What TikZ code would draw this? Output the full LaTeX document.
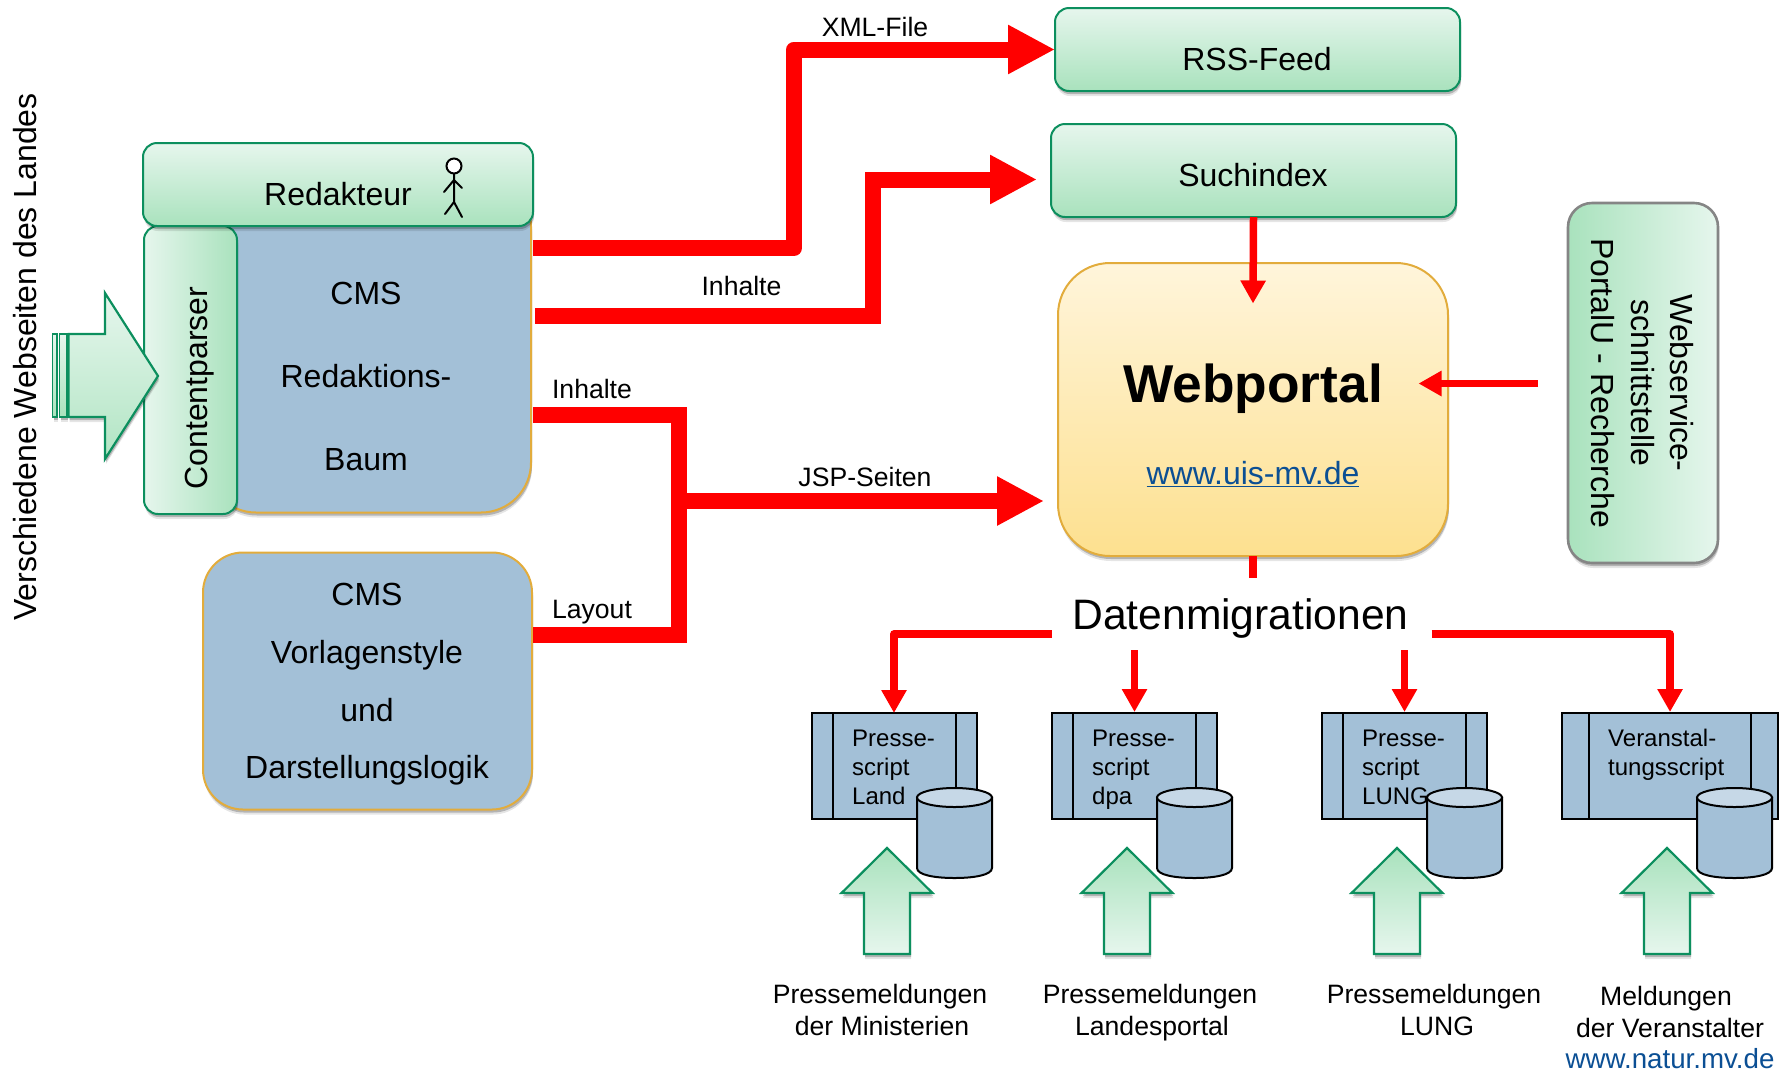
\documentclass[tikz,border=0pt]{standalone}
\usepackage{fontspec}
\setmainfont{Liberation Sans}
\usetikzlibrary{arrows.meta,shadows,calc}
\definecolor{gborder}{HTML}{0C8F5E}
\definecolor{glight}{HTML}{E6F6ED}
\definecolor{gdark}{HTML}{A9E2BD}
\definecolor{cmsblue}{HTML}{A3C0D7}
\definecolor{cyltop}{HTML}{C6D8E7}
\definecolor{gold}{HTML}{E2AC3C}
\definecolor{ylight}{HTML}{FFF5DB}
\definecolor{ydark}{HTML}{FDE08F}
\definecolor{linkblue}{HTML}{0B4F94}
\definecolor{wsborder}{HTML}{858585}
\newcommand{\fsz}[1]{\fontsize{#1}{#1}\selectfont}
\tikzset{
  softshadow/.style={general shadow={shadow xshift=1pt,shadow yshift=-5pt,fill=black,opacity=.10},
                     general shadow={shadow xshift=1pt,shadow yshift=-3pt,fill=black,opacity=.22}},
  boxbase/.style={rectangle,inner sep=0pt,outer sep=0pt,softshadow},
  greenbox/.style={boxbase,draw=gborder,line width=2pt,top color=glight,bottom color=gdark,rounded corners=14pt},
  cmsbox/.style={boxbase,draw=gold,line width=2pt,fill=cmsblue},
  big/.style={anchor=base,inner sep=0pt,font=\fsz{32}},
  lab/.style={anchor=base,inner sep=0pt,font=\fsz{26.6}},
  small/.style={anchor=base west,inner sep=0pt,font=\fsz{24}},
  redthick/.style={draw=red,line width=16pt,miter limit=10,-{Triangle[length=47pt,width=46pt]}},
  redplain/.style={draw=red,line width=16pt,miter limit=10},
  redthin/.style={draw=red,line width=7.5pt,line join=round,-{Triangle[length=23pt,width=24pt]}},
  redstub/.style={draw=red,line width=7.5pt},
  blockarrow/.style={draw=gborder,line width=2.2pt,miter limit=10,softshadow},
}
\begin{document}
\begin{tikzpicture}[x=1pt,y=-1pt]
\useasboundingbox (0,0) rectangle (1787,1072);

% CMS boxes
\node[cmsbox,rounded corners=50pt,minimum width=325pt,minimum height=336pt] (cms) at (368.5,344.5) {};
\node[cmsbox,rounded corners=40pt,minimum width=329pt,minimum height=257pt] (vorl) at (367.5,681) {};

% Contentparser, Redakteur
\node[greenbox,left color=glight,right color=gdark,minimum width=93pt,minimum height=288pt] (cp) at (190.5,370) {};
\node[greenbox,minimum width=390pt,minimum height=83pt] (red) at (338,184.5) {};

% incoming block arrow
\fill[top color=glight,bottom color=gdark,draw=gborder,line width=1.6pt,softshadow] (52.5,334) rectangle (56.8,417);
\fill[top color=glight,bottom color=gdark,draw=gborder,line width=1.6pt,softshadow] (59.6,334) rectangle (66.8,417);
\path[blockarrow,top color=glight,bottom color=gdark!90!white] (68.6,334) -- (105,334) -- (105,293) -- (158,376) -- (105,459) -- (105,417) -- (68.6,417) -- cycle;

% stick figure
\draw[black,line width=2pt,fill=white] (454,166) circle (7.5pt);
\draw[black,line width=2pt,line cap=round] (454,174) -- (454,202) (444,192) -- (454,180) -- (462,188) (445,214) -- (454,202) -- (462,217);

% right-hand boxes
\node[greenbox,minimum width=405pt,minimum height=83pt] (rss) at (1257.5,49.5) {};
\node[greenbox,minimum width=405pt,minimum height=93pt] (such) at (1253.5,170.5) {};
\node[boxbase,draw=gold,line width=2pt,top color=ylight,bottom color=ydark,rounded corners=52pt,minimum width=390pt,minimum height=293pt] (web) at (1253,409.5) {};
\node[boxbase,draw=wsborder,line width=2.6pt,left color=gdark,right color=glight,rounded corners=24pt,minimum width=150pt,minimum height=360pt] (ws) at (1643,383) {};

% free connector ends
\coordinate (a1) at (533,248);
\coordinate (b1) at (794,49.5);
\coordinate (a2) at (535,316);
\coordinate (b2) at (873,179.5);
\coordinate (t2) at (1037,179.5);
\coordinate (a3) at (533,415);
\coordinate (b3) at (679,501);
\coordinate (a4) at (533,635);
\coordinate (t3) at (1044,501);
\coordinate (t4) at (1253,303.5);
\coordinate (s5) at (1538,383.5);
\coordinate (t5) at (1418.5,383.5);
\coordinate (s6) at (1253,578);
\coordinate (dl) at (1052,634);
\coordinate (dr) at (1431.5,634);
\coordinate (s2) at (1134.5,650);
\coordinate (s3) at (1404.5,650);

% red connectors
\draw[redthick,line join=round] (a1) -| (b1) -- (rss.west);
\draw[redthick] (a2) -| (b2) -- (t2);
\draw[redplain] (a3) -| (a3 -| b3) -- (a4 -| b3) -- (a4);
\draw[redthick] (b3) -- (t3);
\draw[redthin] (such.south) -- (t4);
\draw[redthin] (s5) -- (t5);
\draw[redstub] (web.south) -- (s6);

% lower units
\foreach \i/\bx/\bw/\la/\lb/\cx/\ax in {1/812/165/21/144/917/887,2/1052/165/21/144/1157/1127,3/1322/165/21/144/1427/1397,4/1562/216/27/189/1697/1667}{
  \pgfmathsetmacro{\bc}{\bx+\bw/2}
  \node[rectangle,draw=black,line width=2pt,fill=cmsblue,inner sep=0pt,outer sep=0pt,minimum width=\bw pt,minimum height=106pt] (box\i) at (\bc,766) {};
  \draw[black,line width=2pt] (\bx+\la,713) -- (\bx+\la,819) (\bx+\lb,713) -- (\bx+\lb,819);
  % cylinder
  \filldraw[fill=cmsblue,draw=black,line width=2pt] (\cx,797.5) -- (\cx,868) .. controls (\cx,875) and (\cx+18,878) .. (\cx+37.5,878) .. controls (\cx+57,878) and (\cx+75,875) .. (\cx+75,868) -- (\cx+75,797.5) -- cycle;
  \filldraw[fill=cyltop,draw=black,line width=2pt] (\cx+37.5,797.5) ellipse (37.5pt and 9.5pt);
  % up arrow
  \path[blockarrow,top color=gdark,bottom color=glight] (\ax,848) -- (\ax+45.5,893) -- (\ax+23,893) -- (\ax+23,954) -- (\ax-23,954) -- (\ax-23,893) -- (\ax-45.5,893) -- cycle;
}

% connectors to scripts
\draw[redthin] (dl) -| (box1.north -| 894,0) ;
\draw[redthin] (s2) -- (1134.5,712);
\draw[redthin] (s3) -- (1404.5,712);
\draw[redthin] (dr) -| (1670,712);

% texts
\node[big,rotate=90] (t_vers) at (36,357) {Verschiedene Webseiten des Landes};
\node[big,rotate=90] (t_cp) at (207,388) {Contentparser};
\node[big] (t_red) at (338,205) {Redakteur};
\node[big] (t_c1) at (366,304) {CMS};
\node[big] (t_c2) at (366,387) {Redaktions-};
\node[big] (t_c3) at (366,470) {Baum};
\node[big] (t_v1) at (367,605) {CMS};
\node[big] (t_v2) at (367,663) {Vorlagenstyle};
\node[big] (t_v3) at (367,721) {und};
\node[big] (t_v4) at (367,778.5) {Darstellungslogik};
\node[big] (t_rss) at (1257,70) {RSS-Feed};
\node[big] (t_such) at (1253,186.5) {Suchindex};
\node[big,font=\fsz{53.3}\bfseries] (t_web) at (1253,402) {Webportal};
\node[big,font=\fsz{32},text=linkblue] (t_www) at (1253,484) {\underline{www.uis-mv.de}};
\node[big,rotate=-90] (t_w1) at (1670.5,383) {Webservice-};
\node[big,rotate=-90] (t_w2) at (1631.5,383) {schnittstelle};
\node[big,rotate=-90] (t_w3) at (1591.5,383) {PortalU - Recherche};
\node[big,font=\fsz{42.6}] (t_dat) at (1240.5,629) {Datenmigrationen};
\node[lab] (l1) at (875,36) {XML-File};
\node[lab] (l2) at (741.5,295) {Inhalte};
\node[lab] (l3) at (592,398) {Inhalte};
\node[lab] (l4) at (865,486) {JSP-Seiten};
\node[lab] (l5) at (592,618) {Layout};

\node[small] (p11) at (852,746) {Presse-};
\node[small] (p12) at (852,775) {script};
\node[small] (p13) at (852,804) {Land};
\node[small] (p21) at (1092,746) {Presse-};
\node[small] (p22) at (1092,775) {script};
\node[small] (p23) at (1092,804) {dpa};
\node[small] (p31) at (1362,746) {Presse-};
\node[small] (p32) at (1362,775) {script};
\node[small] (p33) at (1362,804) {LUNG};
\node[small] (p41) at (1608,746) {Veranstal-};
\node[small] (p42) at (1608,775) {tungsscript};

\node[lab] (b11) at (880,1003) {Pressemeldungen};
\node[lab] (b12) at (882,1035) {der Ministerien};
\node[lab] (b21) at (1150,1003) {Pressemeldungen};
\node[lab] (b22) at (1152,1035) {Landesportal};
\node[lab] (b31) at (1434,1003) {Pressemeldungen};
\node[lab] (b32) at (1437,1035) {LUNG};
\node[lab] (b41) at (1666,1005) {Meldungen};
\node[lab] (b42) at (1670,1037) {der Veranstalter};
\node[lab,font=\fsz{27.7},text=linkblue] (b43) at (1670,1068) {www.natur.mv.de};
\end{tikzpicture}
\end{document}
